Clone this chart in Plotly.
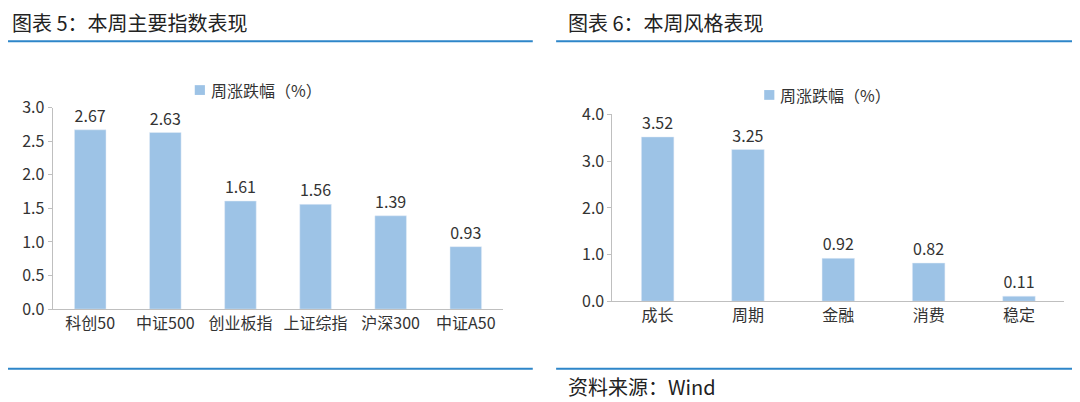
import plotly.graph_objects as go

idx_names = ["科创50", "中证500", "创业板指", "上证综指", "沪深300", "中证A50"]
idx_vals = [2.67, 2.63, 1.61, 1.56, 1.39, 0.93]
style_names = ["成长", "周期", "金融", "消费", "稳定"]
style_vals = [3.52, 3.25, 0.92, 0.82, 0.11]
legend_text = "周涨跌幅（%）"

BAR = "#9DC3E6"
LINE = "#2E86C9"
FONT = dict(family="Noto Sans CJK SC", size=16, color="#333333")
TITLE = dict(family="Noto Sans CJK SC", size=20, color="#222222")


def px(x):
    return (x - 8) / 1064


def py(y):
    return 1 - (y - 14.4) / 386.5


fig = go.Figure()
fig.add_trace(go.Bar(x=idx_names, y=idx_vals, marker_color=BAR, width=0.42,
                     text=[f"{v:.2f}" for v in idx_vals], textposition="outside",
                     cliponaxis=False, showlegend=False, xaxis="x", yaxis="y"))
fig.add_trace(go.Bar(x=style_names, y=style_vals, marker_color=BAR, width=0.36,
                     text=[f"{v:.2f}" for v in style_vals], textposition="outside",
                     cliponaxis=False, showlegend=False, xaxis="x2", yaxis="y2"))

ax = dict(showgrid=False, showline=True, linecolor="#BFBFBF", ticks="outside",
          tickcolor="#BFBFBF", ticklen=4, tickfont=FONT, fixedrange=True)


def note(text, x, y, font):
    return dict(text=text, x=px(x), y=py(y), xref="paper", yref="paper",
                xanchor="left", yanchor="middle", showarrow=False, font=font)


def hline(x0, x1, y):
    return dict(type="line", xref="paper", yref="paper", x0=px(x0), x1=px(x1),
                y0=py(y), y1=py(y), line=dict(color=LINE, width=2))


def square(x, y):
    return dict(type="rect", xref="paper", yref="paper", x0=px(x), x1=px(x + 10),
                y0=py(y + 5), y1=py(y - 5), fillcolor=BAR, line=dict(width=0))


fig.update_layout(
    width=1080, height=402, margin=dict(l=0, r=0, t=0, b=0),
    paper_bgcolor="white", plot_bgcolor="white", font=FONT,
    xaxis=dict(ax, domain=[px(52), px(496)], anchor="y", ticks=""),
    yaxis=dict(ax, domain=[py(309), py(103)], anchor="x", range=[0, 3], dtick=0.5,
               tickformat=".1f"),
    xaxis2=dict(ax, domain=[px(603.5), px(1048.5)], anchor="y2", ticks=""),
    yaxis2=dict(ax, domain=[py(301), py(110)], anchor="x2", range=[0, 4], dtick=1,
                tickformat=".1f"),
    annotations=[
        note("图表 5：本周主要指数表现", 10, 16, TITLE),
        note("图表 6：本周风格表现", 558, 16, TITLE),
        note("资料来源：Wind", 558, 388, TITLE),
        note(legend_text, 206, 85, FONT),
        note(legend_text, 767, 90, FONT),
    ],
    shapes=[
        hline(0, 525, 35), hline(548, 1080, 35),
        hline(0, 525, 370), hline(548, 1080, 370),
        square(192, 85), square(753, 90),
    ],
)
fig.write_html("out.html")
